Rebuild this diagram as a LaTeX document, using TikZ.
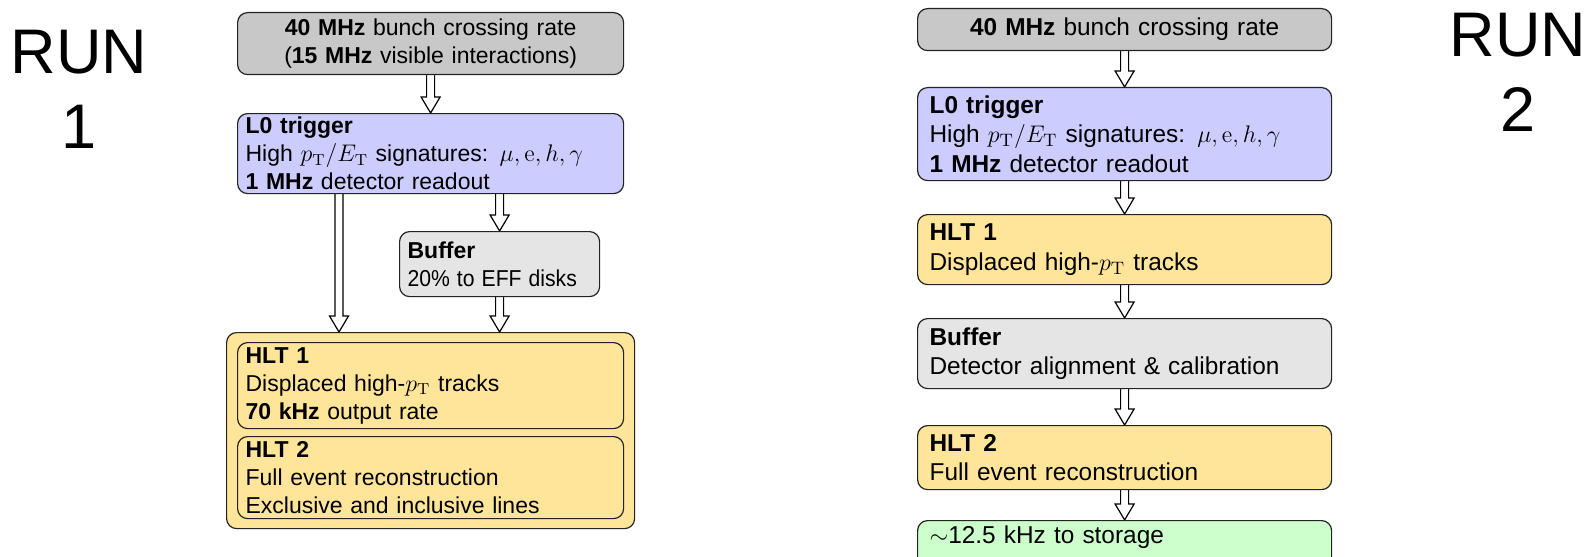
\documentclass[tikz,border=0pt]{standalone}
\usepackage[no-math]{fontspec}
\setmainfont{Liberation Sans}
\usetikzlibrary{calc}
\pgfdeclarelayer{bg}
\pgfsetlayers{bg,main}

\definecolor{entrygrey}{RGB}{200,200,200}
\definecolor{lzero}{RGB}{204,204,255}
\definecolor{buffergrey}{RGB}{229,229,229}
\definecolor{hltyellow}{RGB}{255,229,153}
\definecolor{storegreen}{RGB}{204,255,204}
\definecolor{edge}{RGB}{35,35,35}

\tikzset{
  stage/.style={draw=edge, line width=0.6pt, rounded corners=5pt,
    anchor=north west, align=left, inner xsep=4pt, inner ysep=0pt,
    font=\fontsize{11.5}{14}\selectfont},
  stagetwo/.style={stage, inner xsep=6pt, font=\fontsize{12.2}{14.8}\selectfont},
  flowline/.style={draw=black, fill=white, line width=0.6pt, line join=miter},
  runlabel/.style={align=center, inner sep=0pt,
    font=\fontsize{31.5}{37.5}\selectfont},
}

% hollow block arrow from #1 down to #2
\newcommand\flow[2]{%
  \begin{pgfonlayer}{bg}
  \filldraw[flowline] let \p1=(#1), \p2=(#2) in
    (\x1-2pt,\y1) -- (\x1-2pt,\y2+8pt) -- (\x1-4.75pt,\y2+8pt) -- (\x1,\y2)
    -- (\x1+4.75pt,\y2+8pt) -- (\x1+2pt,\y2+8pt) -- (\x1+2pt,\y1);
  \end{pgfonlayer}}

\begin{document}
\begin{tikzpicture}[x=0.5pt,y=-0.5pt]
\useasboundingbox (0,0) rectangle (1593,556);
\clip (0,0) rectangle (1593,556);

% ---------------- Run 1 ----------------
\node[runlabel] (run1) at (79,89) {RUN\\1};

\node[stage, fill=entrygrey, align=center, text width=185pt, minimum height=31pt]
  (entry1) at (237,12)
  {\textbf{40 MHz} bunch crossing rate\\(\textbf{15 MHz} visible interactions)};

\node[stage, fill=lzero, text width=185pt, minimum height=40pt] (lzero1) at (237,113)
  {\textbf{L0 trigger}\\
   High $p_{\mathrm{T}}/E_{\mathrm{T}}$ signatures: $\mu, \mathrm{e}, h, \gamma$\\
   \textbf{1 MHz} detector readout};

\node[stage, fill=buffergrey, text width=92pt, minimum height=32.5pt] (buffer1) at (399,231)
  {\textbf{Buffer}\\\scalebox{0.92}[1]{20\% to EFF disks}};

\node[stage, fill=hltyellow, minimum width=204pt, minimum height=98pt, inner sep=0pt]
  (hlt1all) at (226,332) {};

\node[stage, fill=hltyellow, text width=185pt, minimum height=43pt] (hltone1) at (237,342)
  {\textbf{HLT 1}\\Displaced high-$p_{\mathrm{T}}$ tracks\\\textbf{70 kHz} output rate};

\node[stage, fill=hltyellow, text width=185pt, minimum height=41pt] (hlttwo1) at (237,436)
  {\textbf{HLT 2}\\Full event reconstruction\\Exclusive and inclusive lines};

\coordinate (bypass) at (339,0);
\flow{entry1.south}{lzero1.north}
\flow{lzero1.south -| bypass}{hlt1all.north -| bypass}
\flow{lzero1.south -| buffer1.north}{buffer1.north}
\flow{buffer1.south}{hlt1all.north -| buffer1.south}

% ---------------- Run 2 ----------------
\node[runlabel] (run2) at (1518,72.5) {RUN\\2};

\node[stagetwo, fill=entrygrey, align=center, text width=195pt, minimum height=21pt]
  (entry2) at (917,8) {\textbf{40 MHz} bunch crossing rate};

\node[stagetwo, fill=lzero, text width=195pt, minimum height=46.5pt] (lzero2) at (917,87)
  {\textbf{L0 trigger}\\
   High $p_{\mathrm{T}}/E_{\mathrm{T}}$ signatures: $\mu, \mathrm{e}, h, \gamma$\\
   \textbf{1 MHz} detector readout};

\node[stagetwo, fill=hltyellow, text width=195pt, minimum height=35pt]
  (hltone2) at (917,214)
  {\textbf{HLT 1}\\Displaced high-$p_{\mathrm{T}}$ tracks};

\node[stagetwo, fill=buffergrey, text width=195pt, minimum height=35pt]
  (buffer2) at (917,318)
  {\textbf{Buffer}\\Detector alignment \& calibration};

\node[stagetwo, fill=hltyellow, text width=195pt, minimum height=32pt]
  (hlttwo2) at (917,425)
  {\textbf{HLT 2}\\Full event reconstruction};

\node[stagetwo, fill=storegreen, inner ysep=3pt, text width=195pt,
  text height=8.5pt, text depth=16pt] (store2) at (917,520)
  {$\sim$12.5 kHz to storage};

\flow{entry2.south}{lzero2.north}
\flow{lzero2.south}{hltone2.north}
\flow{hltone2.south}{buffer2.north}
\flow{buffer2.south}{hlttwo2.north}
\flow{hlttwo2.south}{store2.north}
\end{tikzpicture}
\end{document}
